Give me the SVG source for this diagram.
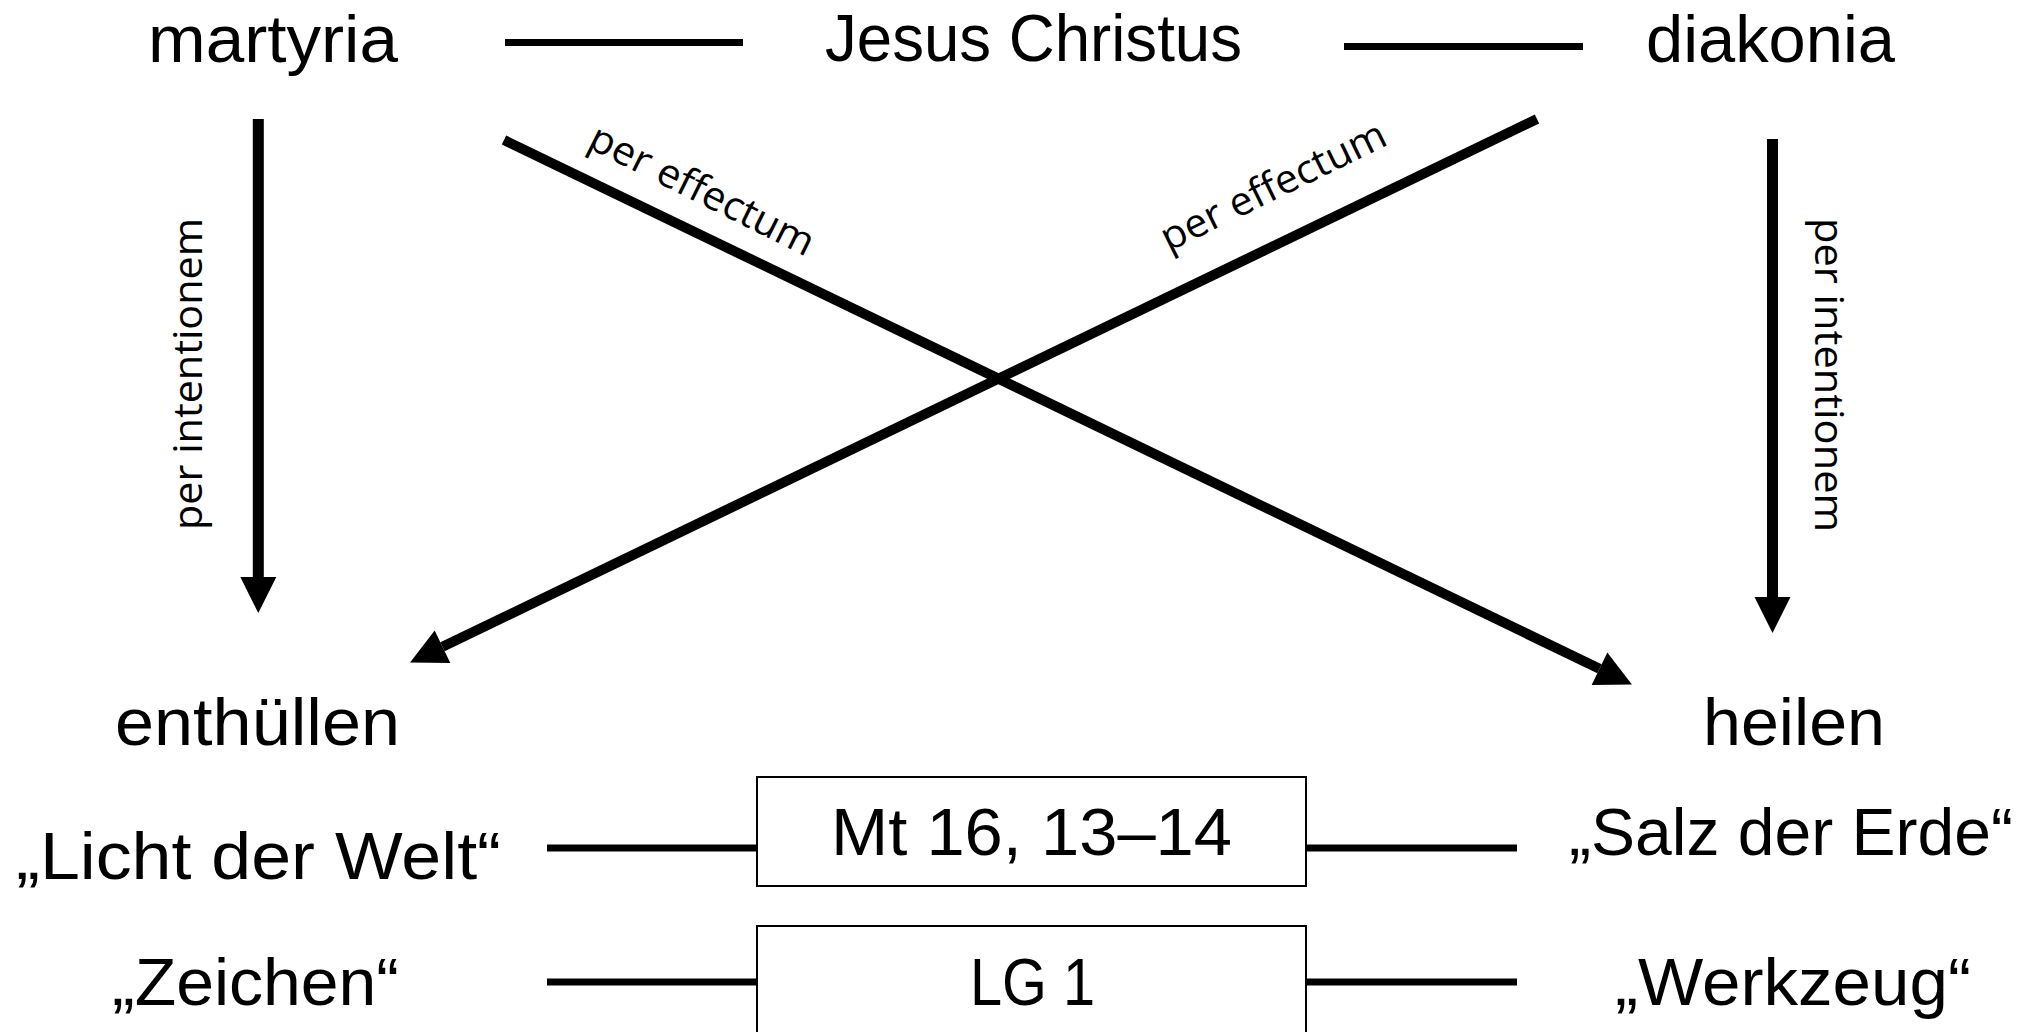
<svg xmlns="http://www.w3.org/2000/svg" width="2031" height="1032" viewBox="0 0 2031 1032">
<style>
.t{font-family:"Liberation Sans Narrow","Liberation Sans",Arial,sans-serif;font-size:66px;fill:#000}
.s{font-family:"Open Sans","DejaVu Sans",sans-serif;font-size:40px;fill:#000}
.h{stroke:#000;stroke-width:7;fill:none}
.v{stroke:#000;stroke-width:11;fill:none}
.d{stroke:#000;stroke-width:10;fill:none}
.box{fill:#fff;stroke:#000;stroke-width:2}
</style>
<defs>
<marker id="ah" markerUnits="userSpaceOnUse" markerWidth="36" markerHeight="36" refX="0" refY="18" orient="auto" overflow="visible">
<path d="M0,0 L36,18 L0,36 z" fill="#000"/>
</marker>
</defs>
<rect width="2031" height="1032" fill="#fff"/>
<g id="connectors">
<line class="h" x1="505" y1="42.5" x2="743" y2="42.5"/>
<line class="h" x1="1344" y1="46.5" x2="1583" y2="46.5"/>
<line class="v" x1="258.3" y1="119" x2="258.3" y2="577" marker-end="url(#ah)"/>
<line class="v" x1="1772.5" y1="139" x2="1772.5" y2="597" marker-end="url(#ah)"/>
<line class="d" x1="504" y1="140" x2="1599.5" y2="668.8" marker-end="url(#ah)"/>
<line class="d" x1="1537" y1="119" x2="442.5" y2="646.8" marker-end="url(#ah)"/>
<line class="h" x1="547" y1="848" x2="757" y2="848"/>
<line class="h" x1="1306" y1="848" x2="1517" y2="848"/>
<line class="h" x1="547" y1="982" x2="757" y2="982"/>
<line class="h" x1="1306" y1="982" x2="1517" y2="982"/>
<text class="s" transform="translate(201.5,374) rotate(-90)" text-anchor="middle" textLength="312" lengthAdjust="spacingAndGlyphs">per intentionem</text>
<text class="s" transform="translate(1815,375) rotate(90)" text-anchor="middle" textLength="314" lengthAdjust="spacingAndGlyphs">per intentionem</text>
<text class="s" transform="translate(696,202) rotate(26.5)" text-anchor="middle" textLength="246" lengthAdjust="spacingAndGlyphs">per effectum</text>
<text class="s" transform="translate(1279,198) rotate(-26)" text-anchor="middle" textLength="246" lengthAdjust="spacingAndGlyphs">per effectum</text>
</g>
<g id="martyria"><text class="t" x="148" y="62" textLength="250" lengthAdjust="spacingAndGlyphs">martyria</text></g>
<g id="jesus-christus"><text class="t" x="825" y="61" textLength="417" lengthAdjust="spacingAndGlyphs">Jesus Christus</text></g>
<g id="diakonia"><text class="t" x="1646" y="62" textLength="249" lengthAdjust="spacingAndGlyphs">diakonia</text></g>
<g id="enthuellen"><text class="t" x="115" y="745" textLength="285" lengthAdjust="spacingAndGlyphs">enthüllen</text></g>
<g id="heilen"><text class="t" x="1703" y="745" textLength="182" lengthAdjust="spacingAndGlyphs">heilen</text></g>
<g id="licht"><text class="t" x="16" y="879" textLength="485" lengthAdjust="spacingAndGlyphs">„Licht der Welt“</text></g>
<g id="salz"><text class="t" x="1569" y="855" textLength="444" lengthAdjust="spacingAndGlyphs">„Salz der Erde“</text></g>
<g id="mt"><rect class="box" x="757" y="777" width="549" height="109"/><text class="t" x="831" y="855" textLength="401" lengthAdjust="spacingAndGlyphs">Mt 16, 13–14</text></g>
<g id="zeichen"><text class="t" x="112" y="1005" textLength="287" lengthAdjust="spacingAndGlyphs">„Zeichen“</text></g>
<g id="werkzeug"><text class="t" x="1615" y="1005" textLength="356" lengthAdjust="spacingAndGlyphs">„Werkzeug“</text></g>
<g id="lg1"><rect class="box" x="757" y="926" width="549" height="120"/><text class="t" x="970" y="1005" textLength="125" lengthAdjust="spacingAndGlyphs">LG 1</text></g>
</svg>
